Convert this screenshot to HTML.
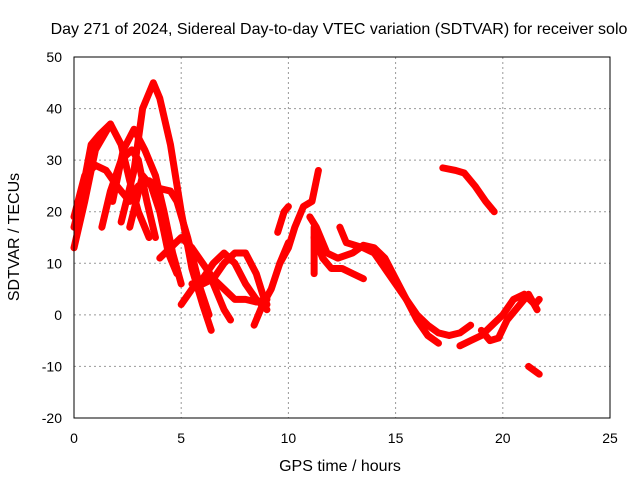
<!DOCTYPE html>
<html><head><meta charset="utf-8"><style>
body{margin:0;background:#fff}
svg text{font-family:"Liberation Sans",sans-serif;font-size:14px;fill:#000}
svg text.big{font-size:16px}
</style></head><body>
<svg id="chart" width="640" height="480">
<text class="big" x="339" y="34" text-anchor="middle">Day 271 of 2024, Sidereal Day-to-day VTEC variation (SDTVAR) for receiver solo</text>
<text class="big" x="340" y="471" text-anchor="middle">GPS time / hours</text>
<text class="big" transform="translate(19,237) rotate(-90)" text-anchor="middle">SDTVAR / TECUs</text>
<g id="grid"></g><g id="ticks"></g><g id="marks"></g>
<rect x="74" y="57" width="536" height="361" fill="none" stroke="#000" stroke-width="1"/>
</svg>
<script>
const xTicks=[0,5,10,15,20,25];
const yTicks=[-20,-10,0,10,20,30,40,50];
const t1=[[2.2,18],[2.8,28],[3.2,40],[3.7,45],[4.0,42],[4.5,33],[5.0,20],[5.5,9],[6.0,2],[6.4,-3]];
const t2=[[0.0,13],[0.5,22],[1.0,32],[1.7,37],[2.2,33],[2.6,26],[3.0,20],[3.5,15]];
const t3=[[0.0,17],[0.3,22],[0.8,33],[1.2,35],[1.7,37]];
const t4=[[1.8,22],[2.3,32],[2.8,36],[3.3,32],[3.8,27],[4.2,20],[4.6,12],[5.0,6]];
const t5=[[0.0,19],[0.5,27],[1.0,29],[1.5,28],[2.0,25],[2.6,22],[3.0,25],[3.5,26],[4.0,24.5],[4.5,24],[4.8,22],[5.3,15],[5.9,5],[6.3,0]];
const t6=[[1.3,17],[1.7,24],[2.2,30],[2.7,32],[3.0,30],[3.4,22],[3.8,15]];
const t6b=[[2.6,17],[2.9,22],[3.2,27],[3.6,25],[4.0,20],[4.4,12],[4.8,8]];
const t7=[[4.0,11],[4.5,13],[5.0,15],[5.5,13],[6.0,10],[6.5,7],[7.0,5],[7.5,3],[8.0,3],[8.5,2.5],[9.0,3]];
const t8=[[5.0,2],[5.5,5],[6.0,7],[6.5,10],[7.0,12],[7.5,10],[8.0,6],[8.5,3],[9.0,1]];
const t9=[[5.5,6],[6.0,6],[6.5,7],[7.0,10],[7.5,12],[8.0,12],[8.5,8],[8.8,4],[9.0,2]];
const t10=[[6.2,9],[6.6,5],[7.0,1],[7.3,-1]];
const t11=[[8.4,-2],[8.8,2],[9.2,5],[9.6,10],[10.0,14]];
const t12=[[9.6,10],[10.0,13],[10.3,17],[10.7,21],[11.1,22],[11.4,28]];
const t12b=[[9.5,16],[9.8,20],[10.0,21]];
const t13=[[11.0,19],[11.3,17],[11.8,12],[12.3,11],[13.0,12],[13.5,13.5],[14.0,13],[14.5,11],[15.0,7],[15.5,3],[16.0,-1],[16.5,-4],[17.0,-5.5]];
const t14=[[11.2,15],[11.6,11],[12.0,9],[12.5,9],[13.0,8],[13.5,7]];
const t15=[[12.4,17],[12.7,14],[13.5,13],[14.0,12],[15.0,6],[16.0,0],[16.5,-2],[17.0,-3.5],[17.5,-4],[18.0,-3.5],[18.5,-2]];
const t16=[[18.0,-6],[18.5,-5],[19.0,-4],[19.5,-2],[20.0,0],[20.5,3],[21.0,4],[21.5,2],[21.7,3]];
const t17=[[19.0,-3],[19.4,-5],[19.8,-4.5],[20.2,-1],[20.8,2],[21.2,4],[21.6,1]];
const t18=[[17.2,28.5],[17.8,28],[18.2,27.5],[18.7,25],[19.2,22],[19.6,20]];
const t19=[[21.2,-10],[21.7,-11.5]];
const t20=[[11.2,8],[11.2,17]];
const tracks=[t1,t2,t3,t4,t5,t6,t6b,t7,t8,t9,t10,t11,t12,t12b,t13,t14,t15,t16,t17,t18,t19,t20];
const X=h=>74+h*536/25, Y=v=>57+(50-v)*361/70;
const NS="http://www.w3.org/2000/svg";
const grid=document.getElementById('grid'),ticks=document.getElementById('ticks'),marks=document.getElementById('marks');
function mk(tag,at,par){const e=document.createElementNS(NS,tag);for(const k in at)e.setAttribute(k,at[k]);par.appendChild(e);return e;}
xTicks.forEach(t=>{
 const l=mk('line',{x1:X(t),x2:X(t),y1:57,y2:418,stroke:'#999','stroke-dasharray':'2,3'},grid);
 
 
 const tx=mk('text',{x:X(t),y:443,'text-anchor':'middle'},ticks);tx.textContent=t;
 
 
});
yTicks.forEach(t=>{
 const l=mk('line',{x1:74,x2:610,y1:Y(t),y2:Y(t),stroke:'#999','stroke-dasharray':'2,3'},grid);
 
 
 const tx=mk('text',{x:62,y:Y(t)+5,'text-anchor':'end'},ticks);tx.textContent=t;
 
 
});
tracks.forEach(tr=>{
 const p=mk('polyline',{points:tr.map(d=>X(d[0])+','+Y(d[1])).join(' '),fill:'none',stroke:'#ff0000','stroke-width':7,'stroke-linejoin':'round','stroke-linecap':'round'},marks);
 
 
});
</script>
</body></html>
